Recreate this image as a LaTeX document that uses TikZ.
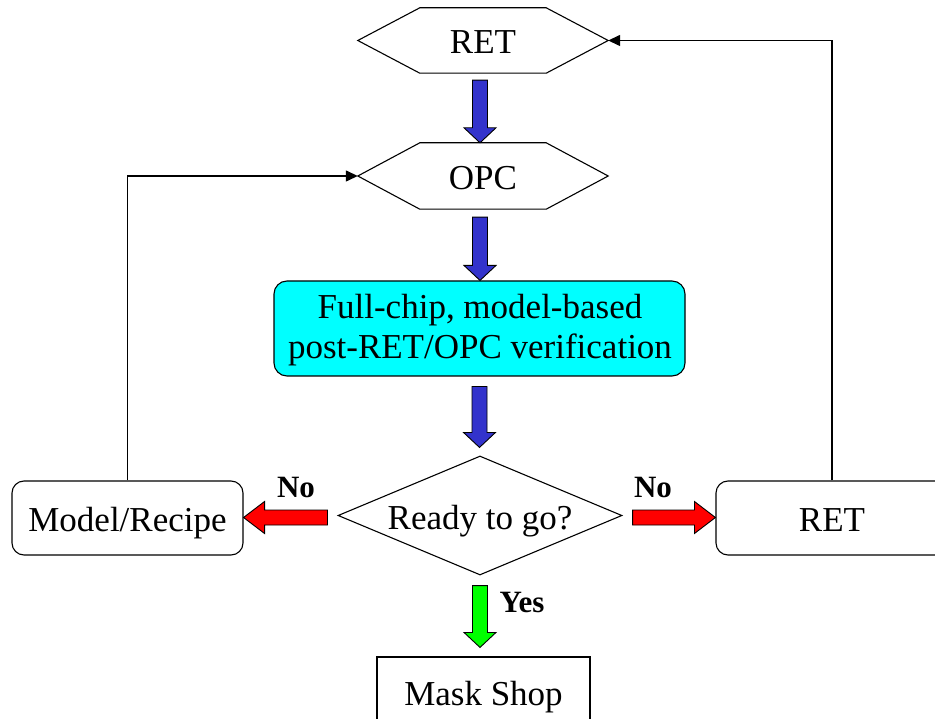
\documentclass[tikz,border=0pt]{standalone}
\usepackage{fontspec}
\setmainfont{Liberation Serif}
\usetikzlibrary{arrows.meta,shapes.geometric,calc}

\definecolor{flowblue}{RGB}{51,51,204}
\definecolor{flowred}{RGB}{255,0,0}
\definecolor{flowgreen}{RGB}{0,255,0}
\definecolor{flowcyan}{RGB}{0,255,255}

% Outlined block arrows: #1 fill colour, #2 tail point, #3 tip point
\newcommand\downblock[3]{%
  \draw[blockarrow, fill=#1] let \p1=#2, \p2=#3 in
    ({\x1-7.5pt},\y1) -- ({\x1+7.5pt},\y1) -- ({\x1+7.5pt},{\y2+15pt})
    -- ({\x1+16pt},{\y2+15pt}) -- (\x1,\y2) -- ({\x1-16pt},{\y2+15pt})
    -- ({\x1-7.5pt},{\y2+15pt}) -- cycle;}
\newcommand\leftblock[3]{%
  \draw[blockarrow, fill=#1] let \p1=#2, \p2=#3 in
    (\x1,{\y1+7.5pt}) -- (\x1,{\y1-7.5pt}) -- ({\x2+21pt},{\y1-7.5pt})
    -- ({\x2+21pt},{\y1-16pt}) -- (\x2,\y1) -- ({\x2+21pt},{\y1+16pt})
    -- ({\x2+21pt},{\y1+7.5pt}) -- cycle;}
\newcommand\rightblock[3]{%
  \draw[blockarrow, fill=#1] let \p1=#2, \p2=#3 in
    (\x1,{\y1+7.5pt}) -- (\x1,{\y1-7.5pt}) -- ({\x2-21pt},{\y1-7.5pt})
    -- ({\x2-21pt},{\y1-16pt}) -- (\x2,\y1) -- ({\x2-21pt},{\y1+16pt})
    -- ({\x2-21pt},{\y1+7.5pt}) -- cycle;}
% Hexagonal outline around a (borderless) node
\newcommand\hexoutline[1]{%
  \draw[hexline] (#1.west) -- ([xshift=62pt]#1.north west)
    -- ([xshift=-62pt]#1.north east) -- (#1.east)
    -- ([xshift=-62pt]#1.south east) -- ([xshift=62pt]#1.south west) -- cycle;}

\tikzset{
  x=1pt, y=-1pt,
  every node/.style={font=\fontsize{35}{40}\selectfont},
  oneline/.style={text height=27pt, text depth=0pt, inner sep=0pt},
  hexnode/.style={oneline, minimum width=250pt, minimum height=65pt},
  hexline/.style={line width=1.1pt, line join=miter},
  rbox/.style={oneline, draw, line width=1.1pt, rounded corners=12pt,
    minimum width=231pt, minimum height=74pt},
  sqbox/.style={oneline, draw, line width=1.1pt,
    minimum width=213pt, minimum height=70pt},
  decision/.style={oneline, draw, diamond, aspect=2.4, line width=1.1pt,
    minimum width=284pt, minimum height=119pt},
  blockarrow/.style={draw=black, line width=0.9pt, line join=miter},
  loopline/.style={line width=1.4pt, -{Triangle[length=12pt,width=11pt]}},
  answer/.style={font=\bfseries\fontsize{31}{36}\selectfont, anchor=base, inner sep=0pt}
}

\begin{document}
\begin{tikzpicture}
  \clip (0,0) rectangle (935,719);
  \fill[white] (0,0) rectangle (935,719);

  % main column
  \node[hexnode] (ret) at (483,40.5) {RET};
  \hexoutline{ret}
  \node[hexnode, minimum height=66pt] (opc) at (483,176) {OPC};
  \hexoutline{opc}
  \node[draw, line width=1.1pt, fill=flowcyan, rounded corners=13pt,
        minimum width=411pt, minimum height=95pt, inner sep=0pt]
        (verify) at (479.5,328.5) {};
  % two-line label; base anchor sits on the second line
  \node[align=center, inner sep=0pt, anchor=base] (verifytext)
        at (480,359) {Full-chip, model-based\\post-RET/OPC verification};
  \node[decision] (dec) at (480,515.5) {Ready to go?};
  \node[sqbox] (mask) at (483.5,692) {Mask Shop};

  % side boxes
  \node[rbox] (model) at (127.5,518) {Model/Recipe};
  \node[rbox, minimum width=232pt] (retb) at (832,518) {RET};

  % block arrows
  \downblock{flowblue}{([xshift=-3pt,yshift=-7pt]ret.south)}{(opc.north)}
  \downblock{flowblue}{([xshift=-3pt,yshift=-8pt]opc.south)}{(verify.north)}
  \downblock{flowblue}{([yshift=-10pt]verify.south)}{([yshift=8pt]dec.north)}
  \downblock{flowgreen}{([yshift=-10pt]dec.south)}{([yshift=9pt]mask.north)}
  \leftblock{flowred}{([xshift=-10pt,yshift=-2pt]dec.west)}{(model.east)}
  \rightblock{flowred}{([xshift=10pt,yshift=-2pt]dec.east)}{(retb.west)}

  % answer labels
  \node[answer] (nol) at (296,497) {No};
  \node[answer] (nor) at (653,497) {No};
  \node[answer] (yes) at (522,612) {Yes};

  % feedback loops
  \draw[loopline] (model.north) |- (opc.west);
  \draw[loopline] (retb.north) |- (ret.east);
\end{tikzpicture}
\end{document}
